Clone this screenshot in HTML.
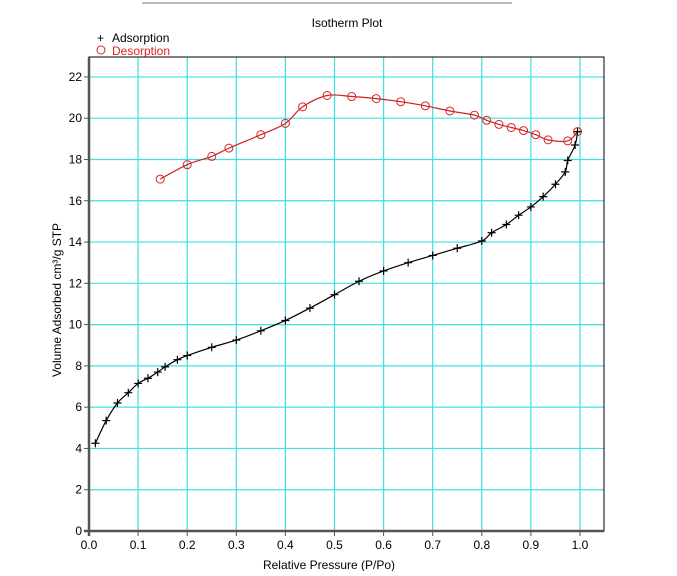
<!DOCTYPE html>
<html><head><meta charset="utf-8"><style>
body{margin:0;background:#fff;}
svg text{font-family:"Liberation Sans",sans-serif;}
</style></head><body>
<svg id="chart" width="677" height="571">
<line x1="142" y1="3" x2="512" y2="3" stroke="#bbb" stroke-width="2"/>
<text x="347" y="27" font-size="12" text-anchor="middle">Isotherm Plot</text>
<g><text x="97" y="42" font-size="12">+</text><text x="112" y="42" font-size="12">Adsorption</text></g>
<g><circle cx="101" cy="50" r="4" fill="none" stroke="#d22"/><text x="112" y="55" font-size="12" fill="#d22">Desorption</text></g>
<g id="grid"></g><g id="axes"></g><g id="series"></g>
<text x="329" y="569" font-size="12" text-anchor="middle">Relative Pressure (P/Po)</text>
<text transform="translate(61,300) rotate(-90)" font-size="12" text-anchor="middle">Volume Adsorbed cm³/g STP</text>
</svg>
<script>
const xTicks=[0,0.1,0.2,0.3,0.4,0.5,0.6,0.7,0.8,0.9,1.0];
const yTicks=[0,2,4,6,8,10,12,14,16,18,20,22];
const adsX=[0.013,0.035,0.058,0.08,0.1,0.12,0.14,0.155,0.18,0.2,0.25,0.3,0.35,0.4,0.45,0.5,0.55,0.6,0.65,0.7,0.75,0.8,0.82,0.85,0.875,0.9,0.925,0.95,0.97,0.975,0.99,0.995];
const adsY=[4.25,5.35,6.2,6.7,7.15,7.4,7.7,7.95,8.3,8.5,8.9,9.25,9.7,10.2,10.8,11.45,12.1,12.6,13.0,13.35,13.7,14.05,14.45,14.85,15.3,15.7,16.2,16.8,17.4,17.95,18.7,19.35];
const desX=[0.995,0.975,0.935,0.91,0.885,0.86,0.835,0.81,0.785,0.735,0.685,0.635,0.585,0.535,0.485,0.435,0.4,0.35,0.285,0.25,0.2,0.145];
const desY=[19.35,18.9,18.95,19.2,19.4,19.55,19.7,19.9,20.15,20.35,20.6,20.8,20.95,21.05,21.1,20.55,19.75,19.2,18.55,18.15,17.75,17.05];
const L=89,R=604,T=57,B=531;
const sx=v=>89+v*491, sy=v=>531-v*20.64;
const NS='http://www.w3.org/2000/svg';
function mk(tag,attrs,parent){const e=document.createElementNS(NS,tag);for(const k in attrs)e.setAttribute(k,attrs[k]);parent.appendChild(e);return e;}
const grid=document.getElementById('grid'),axes=document.getElementById('axes'),ser=document.getElementById('series');
xTicks.forEach(t=>{
 const g=mk('line',{x1:sx(t),x2:sx(t),y1:T,y2:B,stroke:'#3ee0e0','stroke-width':1.2},grid);
 
 
 mk('line',{x1:sx(t),x2:sx(t),y1:B,y2:B+5,stroke:'#555'},axes);
 const tx=mk('text',{x:sx(t),y:B+18,'font-size':12,'text-anchor':'middle'},axes);tx.textContent=t.toFixed(1);
 
 
});
yTicks.forEach(t=>{
 if(t>0){const g=mk('line',{x1:L,x2:R,y1:sy(t),y2:sy(t),stroke:'#3ee0e0','stroke-width':1.2},grid);
 
 }
 mk('line',{x1:L-5,x2:L,y1:sy(t),y2:sy(t),stroke:'#555'},axes);
 const tx=mk('text',{x:L-7,y:sy(t)+4,'font-size':12,'text-anchor':'end'},axes);tx.textContent=t;
 
 
});
const box=mk('rect',{x:L,y:T,width:R-L,height:B-T,fill:'none',stroke:'#000'},axes);


mk('line',{x1:L,x2:L,y1:T,y2:B+5,stroke:'#555','stroke-width':2.5},axes);
mk('line',{x1:L-5,x2:R,y1:B,y2:B,stroke:'#555','stroke-width':2.5},axes);
function path(xs,ys){const p=xs.map((x,i)=>[sx(x),sy(ys[i])]);let d='M'+p[0];for(let i=0;i<p.length-1;i++){const p0=p[i-1]||p[i],p1=p[i],p2=p[i+1],p3=p[i+2]||p2;
 const c1=[p1[0]+(p2[0]-p0[0])/6,p1[1]+(p2[1]-p0[1])/6],c2=[p2[0]-(p3[0]-p1[0])/6,p2[1]-(p3[1]-p1[1])/6];d+=' C'+c1+' '+c2+' '+p2;}return d;}
const pa=mk('path',{d:path(adsX,adsY),fill:'none',stroke:'#000','stroke-width':1.2},ser);


const pd=mk('path',{d:path(desX,desY),fill:'none',stroke:'#c22','stroke-width':1.2},ser);


adsX.forEach((x,i)=>{const X=sx(x),Y=sy(adsY[i]);
 const g=mk('path',{d:`M${X-4},${Y}H${X+4}M${X},${Y-4}V${Y+4}`,stroke:'#000','stroke-width':1.2},ser);
 
 });
desX.forEach((x,i)=>{const c=mk('circle',{cx:sx(x),cy:sy(desY[i]),r:4,fill:'none',stroke:'#d22','stroke-width':1},ser);
 
 });
</script>
</body></html>
